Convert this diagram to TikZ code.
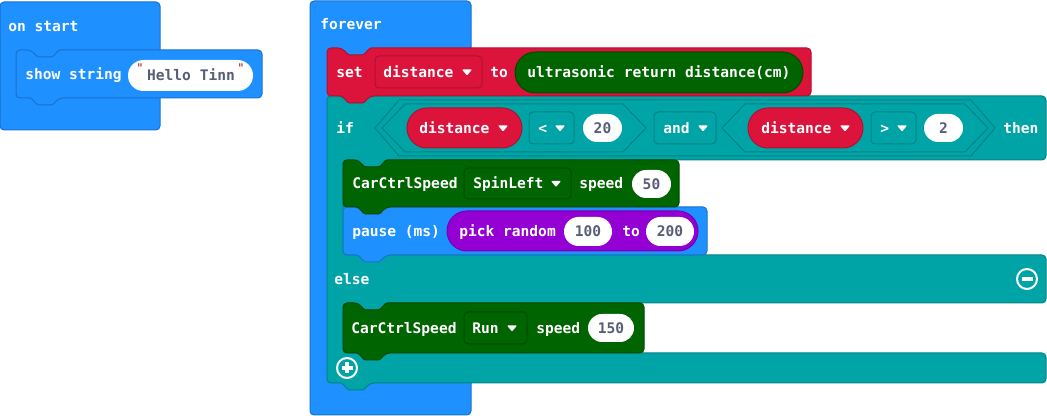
\documentclass[tikz,border=0pt]{standalone}
\usepackage{fontspec}
\newfontfamily\blockfont{DejaVu Sans Mono}

\definecolor{mcblue}{HTML}{1E90FF}
\definecolor{mcblueD}{HTML}{1873CC}
\definecolor{mcred}{HTML}{DC143C}
\definecolor{mcredD}{HTML}{B01030}
\definecolor{mcteal}{HTML}{00A4A6}
\definecolor{mctealD}{HTML}{008385}
\definecolor{mcgreen}{HTML}{006400}
\definecolor{mcgreenD}{HTML}{004B00}
\definecolor{mcpurple}{HTML}{9400D3}
\definecolor{mcpurpleD}{HTML}{7600A9}
\definecolor{pilltext}{HTML}{575E75}
\definecolor{quotemark}{HTML}{A31515}

\tikzset{
  edge/.style={line width=0.75pt},
  blueblk/.style={edge, fill=mcblue, draw=mcblueD},
  redblk/.style={edge, fill=mcred, draw=mcredD},
  tealblk/.style={edge, fill=mcteal, draw=mctealD},
  greenblk/.style={edge, fill=mcgreen, draw=mcgreenD},
  purpleblk/.style={edge, fill=mcpurple, draw=mcpurpleD},
  whitepill/.style={fill=white, draw=none},
  lbl/.style={font={\blockfont\bfseries\fontsize{10.93pt}{13pt}\selectfont},
    text=white, inner sep=0pt, anchor=base west},
  val/.style={lbl, text=pilltext, anchor=base},
  qmark/.style={font={\blockfont\fontsize{9pt}{10pt}\selectfont},
    text=quotemark, inner sep=0pt},
  icon/.style={white, line width=1.5pt},
}

% statement block: notch on top, tab below
\newcommand\mkstmt[5]{%
  \draw[#5, rounded corners=3pt] (#1,#2) -- (#1+15,#2)
    [rounded corners=1pt] -- (#1+21.5,#2+7) -- (#1+36.5,#2+7) -- (#1+43,#2)
    [rounded corners=3pt] -- (#3,#2) -- (#3,#4) -- (#1+43,#4)
    [rounded corners=1pt] -- (#1+36.5,#4+7) -- (#1+21.5,#4+7) -- (#1+15,#4)
    [rounded corners=3pt] -- (#1,#4) -- cycle;}
% fully rounded pill
\newcommand\mkpill[5]{%
  \pgfmathsetmacro\pillr{(#4-#2)*0.375}%
  \draw[#5, rounded corners=\pillr pt] (#1,#2) rectangle (#3,#4);}
% dropdown field
\newcommand\mkdrop[5]{%
  \draw[#5, rounded corners=3pt] (#1,#2) rectangle (#3,#4);}
% dropdown arrow
\newcommand\mktri[2]{%
  \fill[white, rounded corners=0.6pt] (#1-5,#2-2.5) -- (#1+5,#2-2.5) -- (#1,#2+3.5) -- cycle;}
% labels: white text on a block, grey value inside a white pill
\newcommand\mktext[4]{\node[lbl] (#1) at (#2,#3+5.5) {#4};}
\newcommand\mkval[4]{\node[val] (#1) at (#2,#3+5.5) {#4};}

\begin{document}
\begin{tikzpicture}[x=0.75pt,y=-0.75pt]
\useasboundingbox (0,0) rectangle (1047,416);

% ---------- on start ----------
\draw[blueblk, rounded corners=3pt] (0,2) rectangle (160,130);
\mktext{onstart}{8}{26}{on start}
\mkstmt{16}{50}{262}{98}{blueblk}
\mktext{showstring}{25}{74}{show string}
\mkpill{128}{60}{253}{91}{whitepill}
\mkval{hello}{191}{75}{Hello Tinn}
\node[qmark] (qleft) at (140,68) {\symbol{34}};
\node[qmark] (qright) at (241,68) {\symbol{34}};

% ---------- forever ----------
\draw[blueblk, rounded corners=3pt] (310,1) rectangle (471,415);
\mktext{forever}{320}{24.5}{forever}

% if / else block
\draw[tealblk, rounded corners=3pt]
  (327,96) -- (342,96) [rounded corners=1pt] -- (348.5,103) -- (363.5,103) -- (370,96)
  [rounded corners=3pt] -- (1046,96) -- (1046,160) -- (386,160)
  [rounded corners=1pt] -- (379.5,167) -- (364.5,167) -- (358,160)
  [rounded corners=3pt] -- (343,160) -- (343,255) -- (1046,255) -- (1046,303) -- (386,303)
  [rounded corners=1pt] -- (379.5,310) -- (364.5,310) -- (358,303)
  [rounded corners=3pt] -- (343,303) -- (343,353) -- (1046,353) -- (1046,383) -- (370,383)
  [rounded corners=1pt] -- (363.5,390) -- (348.5,390) -- (342,383)
  [rounded corners=3pt] -- (327,383) -- cycle;

% set distance to ...
\mkstmt{327}{48}{811}{96}{redblk}
\mktext{set}{336}{72}{set}
\mkdrop{375}{56}{482}{88}{redblk}
\mktext{setvar}{383}{72}{distance}
\mktri{467}{72}
\mktext{to}{490}{72}{to}
\mkpill{515}{52}{803}{93}{greenblk}
\mktext{ultra}{527}{72}{ultrasonic return distance(cm)}

% if condition
\mktext{if}{336}{128}{if}
\draw[tealblk] (375,128) -- (399,100) -- (971,100) -- (995,128) -- (971,156) -- (399,156) -- cycle;
\draw[tealblk] (382,128) -- (405,104) -- (623,104) -- (646,128) -- (623,152) -- (405,152) -- cycle;
\draw[tealblk] (722,128) -- (745,104) -- (965,104) -- (988,128) -- (965,152) -- (745,152) -- cycle;
\mkpill{407}{108}{522}{148}{redblk}
\mktext{dist1}{419}{128}{distance}
\mktri{503}{128}
\mkdrop{529}{112}{574}{144}{tealblk}
\mktext{lt}{538}{128}{<}
\mktri{560}{128}
\mkpill{583}{114}{622}{142}{whitepill}
\mkval{twenty}{602.5}{128}{20}
\mkdrop{654}{112}{716}{144}{tealblk}
\mktext{and}{663}{128}{and}
\mktri{703}{128}
\mkpill{748}{108}{863}{148}{redblk}
\mktext{dist2}{761}{128}{distance}
\mktri{845}{128}
\mkdrop{871}{112}{916}{144}{tealblk}
\mktext{gt}{880}{128}{>}
\mktri{902}{128}
\mkpill{924}{114}{963}{142}{whitepill}
\mkval{two}{943.5}{128}{2}
\mktext{then}{1003}{128}{then}

% then branch
\mkstmt{343}{207}{707}{255}{blueblk}
\mktext{pause}{352}{231}{pause (ms)}
\mkpill{447}{211}{698}{251}{purpleblk}
\mktext{pick}{459}{231}{pick random}
\mkpill{564}{217}{612}{246}{whitepill}
\mkval{lo}{588}{231.5}{100}
\mktext{rto}{622}{231}{to}
\mkpill{646}{217}{694}{246}{whitepill}
\mkval{hi}{670}{231.5}{200}

\mkstmt{343}{160}{679}{207}{greenblk}
\mktext{car1}{352}{183.5}{CarCtrlSpeed}
\mkdrop{464}{168}{571}{199}{greenblk}
\mktext{spin}{473}{183.5}{SpinLeft}
\mktri{556}{183.5}
\mktext{speed1}{579}{183.5}{speed}
\mkpill{632}{170}{671}{198}{whitepill}
\mkval{fifty}{651.5}{184}{50}

% else branch
\mktext{else}{334}{279}{else}
\draw[icon] (1027,279) circle [radius=10];
\draw[white, line width=2.4pt] (1021.5,279) -- (1032.5,279);

\mkstmt{343}{303}{644}{353}{greenblk}
\mktext{car2}{351}{328}{CarCtrlSpeed}
\mkdrop{464}{312}{527}{344}{greenblk}
\mktext{run}{472}{328}{Run}
\mktri{512}{328}
\mktext{speed2}{536}{328}{speed}
\mkpill{588}{314}{634}{342}{whitepill}
\mkval{onefifty}{611}{328}{150}

% add-branch button
\draw[icon] (347,368) circle [radius=10];
\draw[white, line width=2.4pt] (341.5,368) -- (352.5,368) (347,362.5) -- (347,373.5);
\end{tikzpicture}
\end{document}
